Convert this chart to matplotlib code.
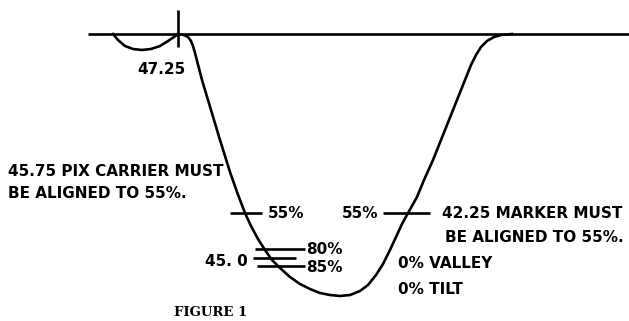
import matplotlib
matplotlib.use("Agg")
import matplotlib.pyplot as plt

# Response curve, traced as (x, y) in drawing units (y grows downward)
curve_x = [178, 184, 188, 191, 193, 195, 202, 208, 214, 220, 225, 230, 237, 245,
           251, 258, 265, 272, 280, 290, 300, 310, 320, 330, 340, 350, 360, 368, 376, 383,
           390, 396, 402, 408, 417, 424, 433, 441, 449, 457, 465, 471, 476, 481, 487,
           494, 501, 512]
curve_y = [34, 35, 37, 41, 46, 53, 80, 100, 120, 140, 156, 172, 192, 213,
           226, 239, 250, 260, 268, 277, 284, 289, 293, 295, 296, 295, 291, 285, 275, 264,
           250, 237, 224, 213, 197, 180, 160, 140, 120, 100, 80, 65, 55, 47, 41,
           37, 35, 34]

# Small adjacent-channel dip left of the 47.25 marker
dip_x = [113, 118, 125, 133, 142, 151, 160, 168, 174, 178]
dip_y = [34, 40, 46, 49, 50, 49, 46, 41, 37, 34]

baseline_y = 34
marker_x = 178
level_55 = 213
tick_80, tick_mid, tick_85 = 249, 258, 266

fig = plt.figure(figsize=(6.29, 3.21), dpi=100)
ax = fig.add_axes([0, 0, 1, 1])
ax.set_xlim(0, 629)
ax.set_ylim(321, 0)
ax.axis("off")

lw = 1.9
k = dict(color="black", lw=lw, solid_capstyle="butt")

ax.plot([88, 629], [baseline_y, baseline_y], **k)
ax.plot([marker_x, marker_x], [10, 47], **k)
ax.plot(dip_x, dip_y, color="black", lw=lw, solid_joinstyle="round")
ax.plot(curve_x, curve_y, color="black", lw=lw, solid_joinstyle="round")

# 55% alignment ticks
ax.plot([230, 262], [level_55, level_55], **k)
ax.plot([383, 430], [level_55, level_55], **k)

# 80% / 85% ticks around 45.0
ax.plot([255, 305], [tick_80, tick_80], **k)
ax.plot([253, 296], [tick_mid, tick_mid], **k)
ax.plot([257, 305], [tick_85, tick_85], **k)

font = dict(family="DejaVu Sans", fontweight="bold", fontsize=11, color="black")

ax.text(161, 69, "47.25", ha="center", va="center", **font)
ax.text(8, 171, "45.75 PIX CARRIER MUST", ha="left", va="center", **font)
ax.text(8, 193, "BE ALIGNED TO 55%.", ha="left", va="center", **font)
ax.text(268, 214, "55%", ha="left", va="center", **font)
ax.text(378, 214, "55%", ha="right", va="center", **font)
ax.text(442, 214, "42.25 MARKER MUST", ha="left", va="center", **font)
ax.text(445, 238, "BE ALIGNED TO 55%.", ha="left", va="center", **font)
ax.text(306, 250, "80%", ha="left", va="center", **font)
ax.text(306, 268, "85%", ha="left", va="center", **font)
ax.text(248, 262, "45. 0", ha="right", va="center", **font)
ax.text(398, 263, "0% VALLEY", ha="left", va="center", **font)
ax.text(398, 289, "0% TILT", ha="left", va="center", **font)
ax.text(211, 313, "FIGURE 1", ha="center", va="center", family="DejaVu Serif",
        fontweight="bold", fontsize=9.5, color="black")

fig.savefig("out.png", dpi=100, facecolor="white")
